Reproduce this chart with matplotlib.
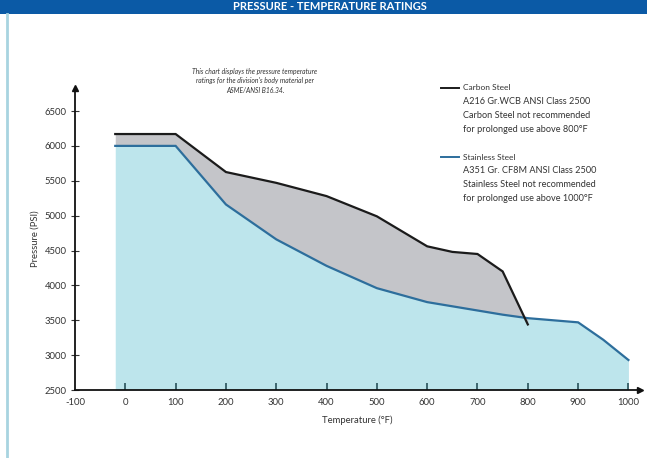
import matplotlib
matplotlib.use("Agg")
import matplotlib.pyplot as plt
from matplotlib.patches import Rectangle

plt.rcParams['font.family'] = ['Lato', 'DejaVu Sans']
plt.rcParams['axes.unicode_minus'] = False

# ratings (temperature in F, pressure in PSI)
temps = [-20, 100, 200, 300, 400, 500, 600, 650, 700, 750, 800, 850, 900, 950, 1000]
stainless_psi = [6000, 6000, 5160, 4660, 4280, 3960, 3760, 3700, 3640, 3580, 3530, 3500, 3470, 3220, 2930]
carbon_psi = [6170, 6170, 5625, 5470, 5280, 4990, 4560, 4480, 4450, 4200, 3440]
n_carbon = len(carbon_psi)

x_ticks = [-100, 0, 100, 200, 300, 400, 500, 600, 700, 800, 900, 1000]
y_ticks = [2500, 3000, 3500, 4000, 4500, 5000, 5500, 6000, 6500]

note = ("This chart displays the pressure temperature\n"
        "ratings for the division's body material per\n"
        "ASME/ANSI B16.34.")
carbon_text = ["Carbon Steel", "A216 Gr.WCB ANSI Class 2500",
               "Carbon Steel not recommended", "for prolonged use above 800\u00b0F"]
stainless_text = ["Stainless Steel", "A351 Gr. CF8M ANSI Class 2500",
                  "Stainless Steel not recommended", "for prolonged use above 1000\u00b0F"]

W, H = 647, 458
fig = plt.figure(figsize=(W / 100, H / 100), dpi=100)
fig.patch.set_facecolor('white')

# header band and left border
fig.add_artist(Rectangle((0, 1 - 14 / H), 1, 14 / H, transform=fig.transFigure,
                         facecolor='#0b5aa6', edgecolor='none'))
fig.text(0.51, 1 - 7 / H, "PRESSURE - TEMPERATURE RATINGS", color='white',
         fontsize=8, fontweight='bold', ha='center', va='center')
fig.add_artist(plt.Line2D([7 / W, 7 / W], [0, 1 - 14 / H], transform=fig.transFigure,
                          color='#a8d4e0', lw=2))

ax = fig.add_axes([75 / W, (H - 390) / H, (640 - 75) / W, (390 - 88) / H])
ax.set_xlim(-100, 1023)
ax.set_ylim(2500, 6830)

ax.fill_between(temps, stainless_psi, 2500, color='#bde5ec', lw=0)
ax.fill_between(temps[:n_carbon], carbon_psi, stainless_psi[:n_carbon],
                color='#c4c5c9', lw=0)
ax.plot(temps, stainless_psi, color='#2d6e9c', lw=1.6, solid_joinstyle='miter')
ax.plot(temps[:n_carbon], carbon_psi, color='#1b1b1b', lw=1.6, solid_joinstyle='miter')

for s in ['top', 'right']:
    ax.spines[s].set_visible(False)
for s in ['left', 'bottom']:
    ax.spines[s].set_color('#111111')
    ax.spines[s].set_linewidth(1.3)

ax.set_xticks(x_ticks)
ax.set_yticks(y_ticks)
ax.tick_params(axis='x', direction='in', length=5, width=1.2, color='#28525a',
               labelsize=6.8, labelcolor='#333333', pad=6)
ax.tick_params(axis='y', direction='inout', length=6, width=0.8, color='#333333',
               labelsize=6.8, labelcolor='#333333', pad=3)
ax.xaxis.get_major_ticks()[0].tick1line.set_visible(False)

# arrow heads on the axes
ax.plot(1, 0, marker='>', color='#111111', ms=5, transform=ax.transAxes, clip_on=False)
ax.plot(0, 1, marker='^', color='#111111', ms=5, transform=ax.transAxes, clip_on=False)

ax.set_xlabel("Temperature (\u00b0F)", fontsize=6.8, color='#333333', labelpad=6)
ax.set_ylabel("Pressure (PSI)", fontsize=6.8, color='#333333', labelpad=4)

fig.text(255 / W, 1 - 81 / H, note, fontsize=4.9, style='italic', color='#333333',
         ha='center', va='center', linespacing=1.4)

for top, line_color, lines in [(88, '#1b1b1b', carbon_text), (157, '#2d6e9c', stainless_text)]:
    fig.add_artist(plt.Line2D([441 / W, 459 / W], [1 - top / H, 1 - top / H],
                              transform=fig.transFigure, color=line_color, lw=1.4))
    for i, txt in enumerate(lines):
        fig.text(463 / W, 1 - (top + i * 13.7) / H, txt,
                 fontsize=6 if i == 0 else 6.6, color='#333333', ha='left', va='center')

fig.savefig("out.png", dpi=100)
